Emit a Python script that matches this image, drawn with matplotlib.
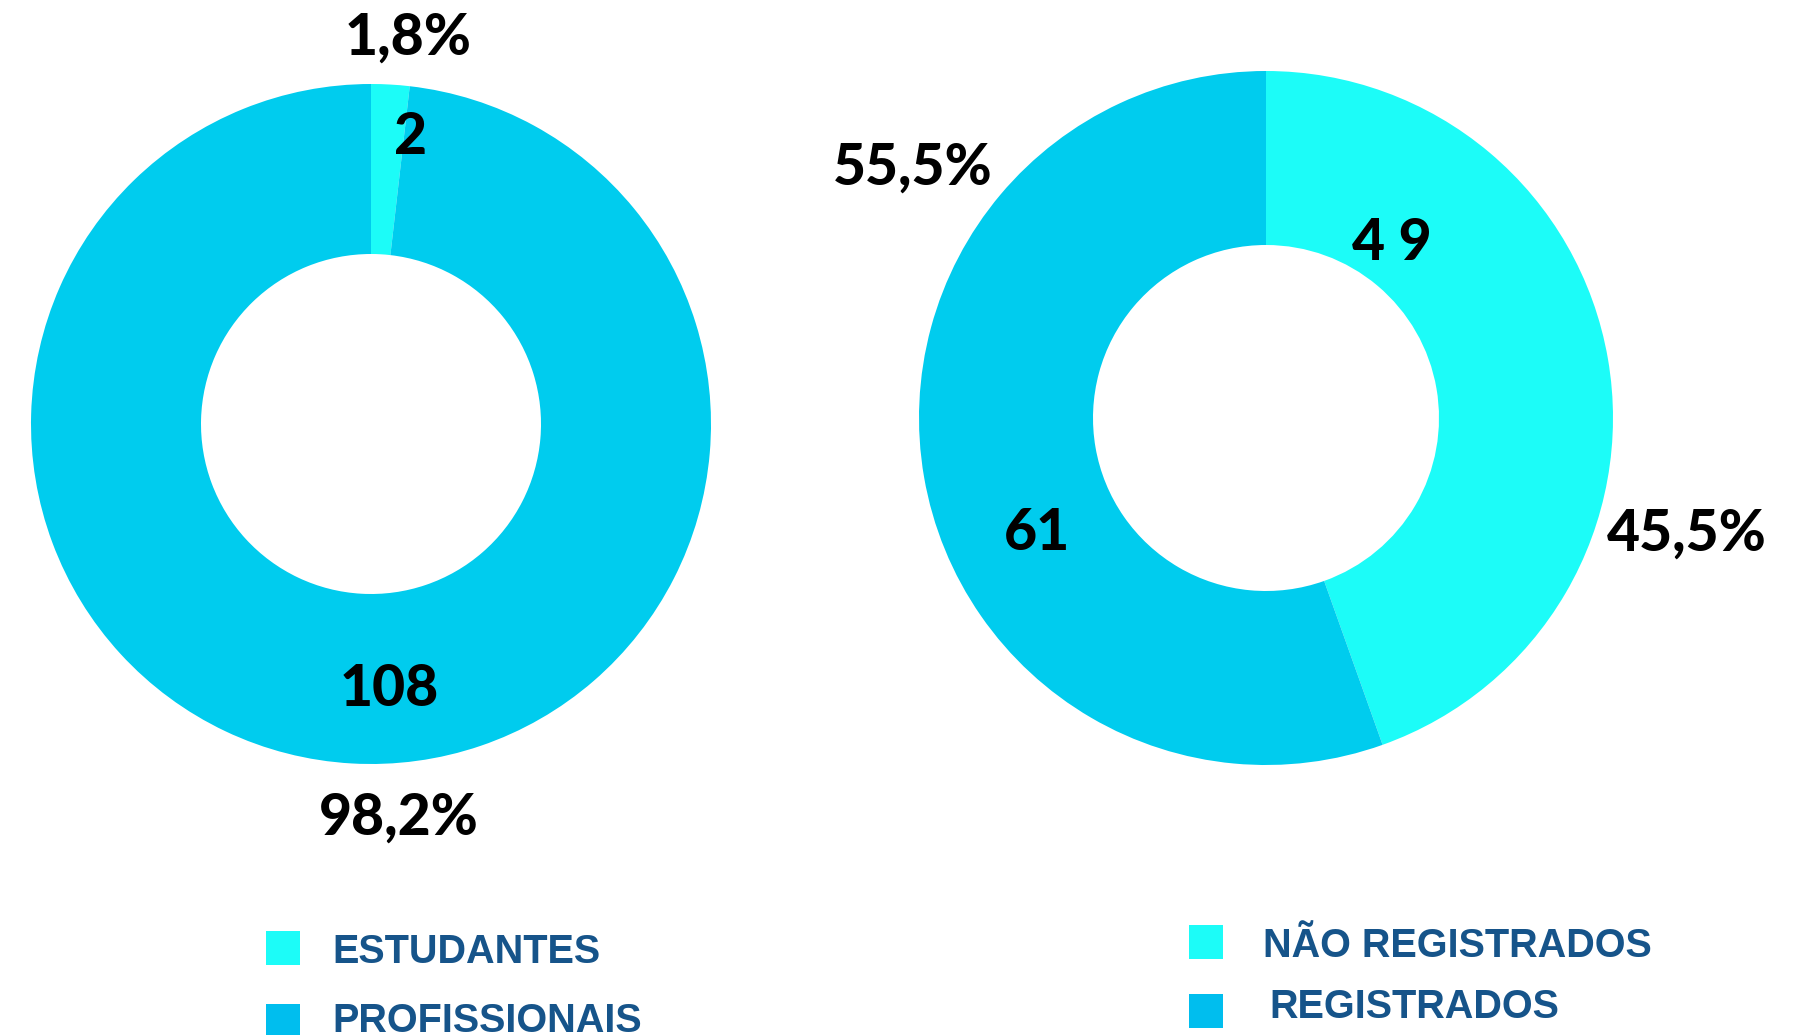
import matplotlib.pyplot as plt
from matplotlib.patches import Rectangle

# dados
left_labels = ['ESTUDANTES', 'PROFISSIONAIS']
left_values = [2, 108]
left_pcts = ['1,8%', '98,2%']

right_labels = ['NÃO REGISTRADOS', 'REGISTRADOS']
right_values = [49, 61]
right_pcts = ['45,5%', '55,5%']

c_light = '#1CFCF8'
c_main = '#00CCEE'
c_legend = ['#1CFCF8', '#00BEEE']
c_text = '#16548A'

W, H = 1812, 1035
fig = plt.figure(figsize=(W / 100, H / 100), dpi=100)
ax = fig.add_axes([0, 0, 1, 1])

def Y(y):
    return H - y

num_font = dict(family=['Lato', 'DejaVu Sans'], fontweight='black', fontsize=41, color='black',
                ha='center', va='center')

# rosca esquerda
ax.pie(left_values, colors=[c_light, c_main], startangle=90, counterclock=False,
       center=(371, Y(424)), radius=340, wedgeprops=dict(width=170, linewidth=0),
       frame=True)
# rosca direita
ax.pie(right_values, colors=[c_light, c_main], startangle=90, counterclock=False,
       center=(1266, Y(418)), radius=347, wedgeprops=dict(width=174, linewidth=0),
       frame=True)
ax.set_xlim(0, W)
ax.set_ylim(0, H)
ax.set_aspect('equal')
ax.axis('off')

# valores
ax.text(410, Y(138), str(left_values[0]), **num_font)
ax.text(389, Y(690), str(left_values[1]), **num_font)
ax.text(408, Y(38), left_pcts[0], **num_font)
ax.text(399, Y(818), left_pcts[1], **num_font)

ax.text(1392, Y(243), ' '.join(str(right_values[0])), **num_font)
ax.text(1037, Y(534), str(right_values[1]), **num_font)
ax.text(1687, Y(534), right_pcts[0], **num_font)
ax.text(913, Y(168), right_pcts[1], **num_font)

# legendas
leg_font = dict(family=['Liberation Sans', 'DejaVu Sans'], fontweight='bold', fontsize=28.5,
                color=c_text, ha='left', va='baseline')
for i, (lab, sq_y, tx_y) in enumerate(zip(left_labels, [931, 1004], [963, 1032])):
    ax.add_patch(Rectangle((266, Y(sq_y + 34)), 34, 34, color=c_legend[i], lw=0))
    ax.text(332, Y(tx_y), lab, **leg_font)
for i, (lab, sq_y, tx_x, tx_y) in enumerate(zip(right_labels, [925, 994], [1263, 1269], [957, 1018])):
    ax.add_patch(Rectangle((1189, Y(sq_y + 34)), 34, 34, color=c_legend[i], lw=0))
    ax.text(tx_x, Y(tx_y), lab, **leg_font)

fig.savefig('out.png', dpi=100, facecolor='white')
